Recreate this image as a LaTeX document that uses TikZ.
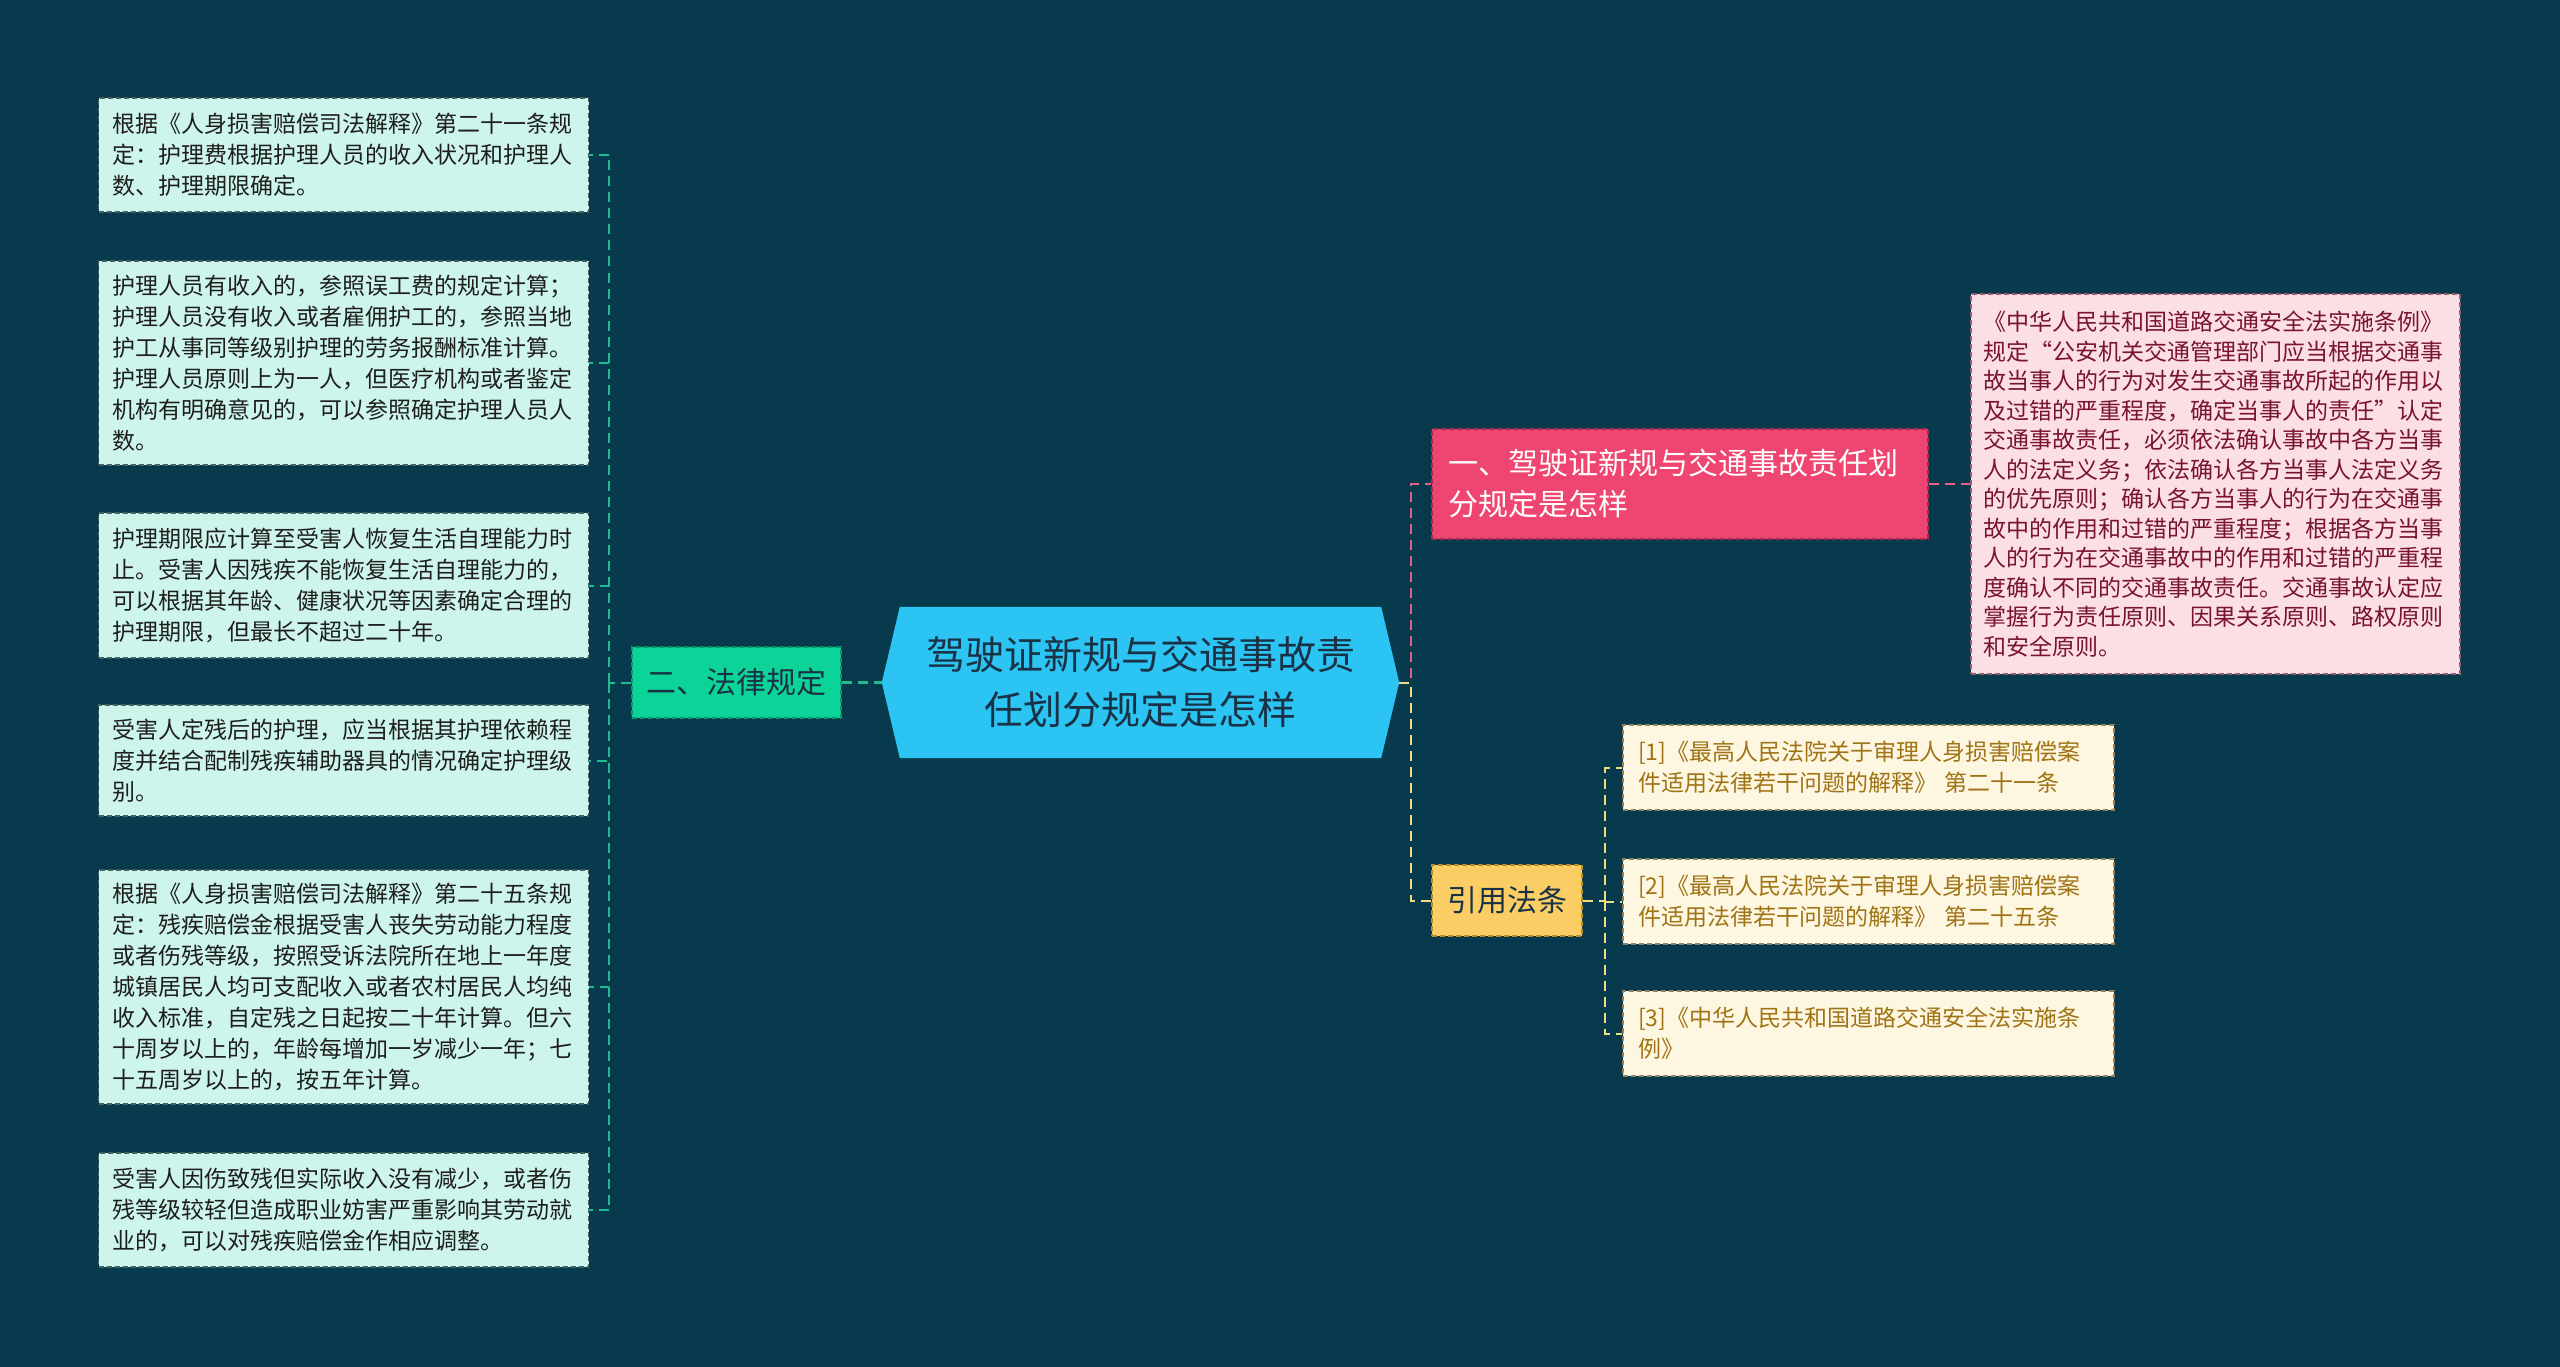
\documentclass[tikz,border=0pt]{standalone}
\usepackage{fontspec}
\setmainfont{Noto Sans CJK SC}
\usetikzlibrary{calc,backgrounds}
\definecolor{bgc}{RGB}{8,58,77}
\definecolor{lfill}{RGB}{206,245,236}
\definecolor{lbord}{RGB}{70,95,95}
\definecolor{ltext}{RGB}{30,30,30}
\definecolor{tealc}{RGB}{30,190,140}
\definecolor{greenf}{RGB}{12,212,152}
\definecolor{greenb}{RGB}{10,150,110}
\definecolor{ctrf}{RGB}{44,196,242}
\definecolor{ctrt}{RGB}{25,50,70}
\definecolor{redf}{RGB}{238,70,112}
\definecolor{redb}{RGB}{170,40,80}
\definecolor{pinkc}{RGB}{230,95,135}
\definecolor{pinkf}{RGB}{252,222,229}
\definecolor{pinkb}{RGB}{150,90,110}
\definecolor{pinkt}{RGB}{120,20,45}
\definecolor{yelf}{RGB}{250,206,100}
\definecolor{yelb}{RGB}{180,140,50}
\definecolor{yelc}{RGB}{240,220,130}
\definecolor{creamf}{RGB}{253,246,225}
\definecolor{creamb}{RGB}{150,130,90}
\definecolor{creamt}{RGB}{160,115,20}
\begin{document}
\begin{tikzpicture}[x=1pt,y=-1pt,
  leftbox/.style={draw=lbord, fill=lfill, dash pattern=on 5pt off 3pt, line width=1.2pt,
    text width=462pt, align=left, inner xsep=14pt, inner ysep=0pt,
    font=\fontsize{23}{31}\selectfont, text=ltext},
  pinkbox/.style={draw=pinkb, fill=pinkf, dash pattern=on 5pt off 3pt, line width=1.2pt,
    text width=465pt, align=left, inner xsep=12pt, inner ysep=0pt,
    font=\fontsize{23}{29.5}\selectfont, text=pinkt},
  refbox/.style={draw=creamb, fill=creamf, dash pattern=on 5pt off 3pt, line width=1.2pt,
    text width=461pt, align=left, inner xsep=15pt, inner ysep=0pt,
    font=\fontsize{23}{31}\selectfont, text=creamt, minimum height=85pt},
  topic/.style={dash pattern=on 5pt off 3pt, line width=1.2pt, inner ysep=0pt,
    font=\fontsize{30}{41}\selectfont},
  conn/.style={line width=2pt, dash pattern=on 10pt off 6pt}
]
\useasboundingbox (0,0) rectangle (2560,1367);

% left boxes
\node[leftbox, minimum height=114pt] (l1) at (343.5,155) {根据《人身损害赔偿司法解释》第二十一条规\\定：护理费根据护理人员的收入状况和护理人\\数、护理期限确定。};
\node[leftbox, minimum height=204pt] (l2) at (343.5,363) {护理人员有收入的，参照误工费的规定计算；\\护理人员没有收入或者雇佣护工的，参照当地\\护工从事同等级别护理的劳务报酬标准计算。\\护理人员原则上为一人，但医疗机构或者鉴定\\机构有明确意见的，可以参照确定护理人员人\\数。};
\node[leftbox, minimum height=145pt] (l3) at (343.5,585.5) {护理期限应计算至受害人恢复生活自理能力时\\止。受害人因残疾不能恢复生活自理能力的，\\可以根据其年龄、健康状况等因素确定合理的\\护理期限，但最长不超过二十年。};
\node[leftbox, minimum height=111pt] (l4) at (343.5,760.5) {受害人定残后的护理，应当根据其护理依赖程\\度并结合配制残疾辅助器具的情况确定护理级\\别。};
\node[leftbox, minimum height=234pt] (l5) at (343.5,987) {根据《人身损害赔偿司法解释》第二十五条规\\定：残疾赔偿金根据受害人丧失劳动能力程度\\或者伤残等级，按照受诉法院所在地上一年度\\城镇居民人均可支配收入或者农村居民人均纯\\收入标准，自定残之日起按二十年计算。但六\\十周岁以上的，年龄每增加一岁减少一年；七\\十五周岁以上的，按五年计算。};
\node[leftbox, minimum height=114pt] (l6) at (343.5,1210) {受害人因伤致残但实际收入没有减少，或者伤\\残等级较轻但造成职业妨害严重影响其劳动就\\业的，可以对残疾赔偿金作相应调整。};

% law node
\node[topic, draw=greenb, fill=greenf, text=ctrt, minimum width=209pt, minimum height=71pt, inner xsep=0pt] (law) at (736.5,682.5) {二、法律规定};

% center node
\node[font=\fontsize{39}{55}\selectfont, text=ctrt, align=center, minimum width=517pt, minimum height=151pt] (c) at (1140.5,682.5) {驾驶证新规与交通事故责\\任划分规定是怎样};

% section one
\node[topic, draw=redb, fill=redf, text=white, text width=464pt, align=left, inner xsep=16pt, minimum height=110pt] (s1) at (1680,484) {一、驾驶证新规与交通事故责任划\\分规定是怎样};
\node[pinkbox, minimum height=380pt] (p1) at (2215.5,484) {《中华人民共和国道路交通安全法实施条例》\\规定“公安机关交通管理部门应当根据交通事\\故当事人的行为对发生交通事故所起的作用以\\及过错的严重程度，确定当事人的责任”认定\\交通事故责任，必须依法确认事故中各方当事\\人的法定义务；依法确认各方当事人法定义务\\的优先原则；确认各方当事人的行为在交通事\\故中的作用和过错的严重程度；根据各方当事\\人的行为在交通事故中的作用和过错的严重程\\度确认不同的交通事故责任。交通事故认定应\\掌握行为责任原则、因果关系原则、路权原则\\和安全原则。};

% citations
\node[topic, draw=yelb, fill=yelf, text=ctrt, minimum width=150pt, minimum height=71pt, inner xsep=0pt] (cite) at (1507,900.5) {引用法条};
\node[refbox] (r1) at (1868.5,767.5) {[1]《最高人民法院关于审理人身损害赔偿案\\件适用法律若干问题的解释》 第二十一条};
\node[refbox] (r2) at (1868.5,901.5) {[2]《最高人民法院关于审理人身损害赔偿案\\件适用法律若干问题的解释》 第二十五条};
\node[refbox] (r3) at (1868.5,1033.5) {[3]《中华人民共和国道路交通安全法实施条\\例》};

\coordinate (lj) at (609,682.5);
\coordinate (rj) at (1411,682.5);
\coordinate (cj) at (1605,900.5);

\begin{scope}[on background layer]
  \fill[bgc] (0,0) rectangle (2560,1367);
  % left connectors
  \draw[conn, tealc, line width=3.5pt] (law.east) -- (c.west);
  \draw[conn, tealc] (law.west) -- (lj);
  \foreach \b in {l1,l2,l3,l4,l5,l6} { \draw[conn, tealc] (lj) |- (\b.east); }
  % right connectors
  \draw[conn, pinkc] (c.east) -- (rj) |- (s1.west);
  \draw[conn, pinkc] (s1.east) -- (p1.west);
  \draw[conn, yelc] (c.east) -- (rj) |- (cite.west);
  \draw[conn, yelc] (cite.east) -- (cj);
  \foreach \b in {r1,r2,r3} { \draw[conn, yelc] (cj) |- (\b.west); }
  % center hexagon
  \fill[ctrf] ($(c.north west)+(18,0)$) -- ($(c.north east)+(-18,0)$) -- (c.east)
     -- ($(c.south east)+(-18,0)$) -- ($(c.south west)+(18,0)$) -- (c.west) -- cycle;
\end{scope}
\end{tikzpicture}
\end{document}
